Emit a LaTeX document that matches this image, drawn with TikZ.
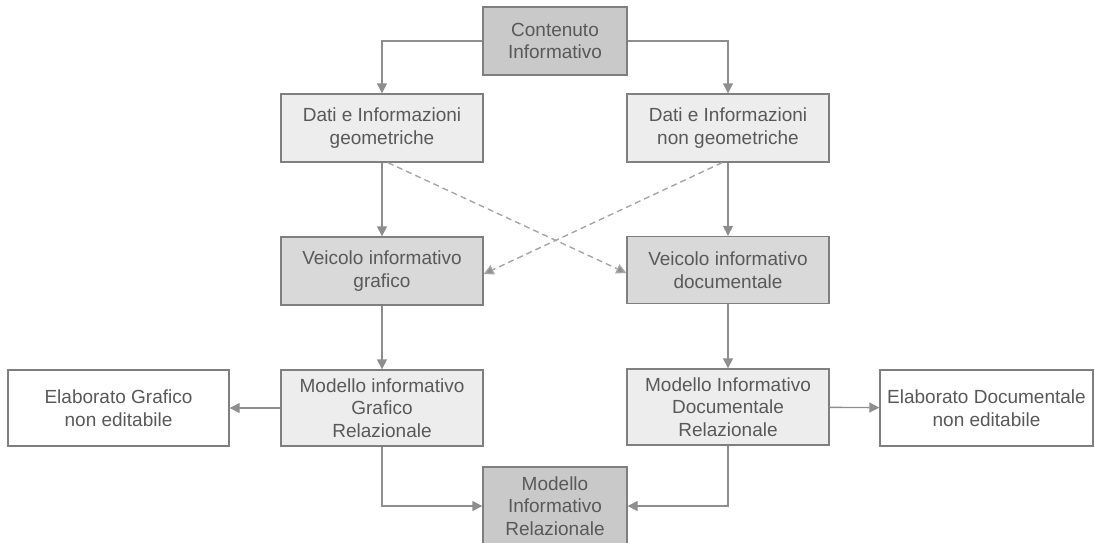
\documentclass[tikz,border=0pt]{standalone}
\usepackage{fontspec}
\setmainfont{Liberation Sans}
\usetikzlibrary{arrows.meta}
\definecolor{txtgray}{HTML}{595959}
\definecolor{edgegray}{HTML}{7F7F7F}
\definecolor{linkgray}{HTML}{8E8E8E}
\definecolor{dashgray}{HTML}{A6A6A6}
\definecolor{filldark}{HTML}{C9C9C9}
\definecolor{fillmid}{HTML}{D9D9D9}
\definecolor{filllight}{HTML}{EDEDED}
\tikzset{
  box/.style={draw=edgegray, line width=1.4pt, inner sep=0pt, align=center,
    text=txtgray, font=\fontsize{19}{22.5}\selectfont},
  link/.style={draw=linkgray, line width=1.4pt,
    -{Triangle[length=10pt,width=10pt]}},
  dlink/.style={draw=dashgray, line width=1.4pt, dash pattern=on 6pt off 4pt,
    -{Triangle[length=10pt,width=10pt,fill=linkgray]}},
}
\begin{document}
\begin{tikzpicture}[x=1pt,y=-1pt]
\useasboundingbox (0,0) rectangle (1095,542);
% boxes
\node[box, fill=filldark, minimum width=144pt, minimum height=68pt] (cont) at (555,41) {Contenuto\\Informativo};
\node[box, fill=filllight, minimum width=202pt, minimum height=68pt] (geo) at (382,128) {Dati e Informazioni\\geometriche};
\node[box, fill=filllight, minimum width=202pt, minimum height=68pt] (ngeo) at (728,128) {Dati e Informazioni\\non geometriche};
\node[box, fill=fillmid, minimum width=202pt, minimum height=68pt] (vg) at (382,271) {Veicolo informativo\\grafico};
\node[box, fill=fillmid, minimum width=202pt, minimum height=67pt] (vd) at (728,270) {Veicolo informativo\\documentale};
\node[box, fill=filllight, minimum width=202pt, minimum height=76pt] (mg) at (382,408) {Modello informativo\\Grafico\\Relazionale};
\node[box, fill=filllight, minimum width=202pt, minimum height=76pt] (md) at (728,407) {Modello Informativo\\Documentale\\Relazionale};
\node[box, fill=white, minimum width=221pt, minimum height=76pt] (eg) at (118.5,408) {Elaborato Grafico\\non editabile};
\node[box, fill=white, minimum width=213pt, minimum height=76pt] (ed) at (986.5,408) {Elaborato Documentale\\non editabile};
\node[box, fill=filldark, minimum width=144pt, minimum height=78pt] (mr) at (555,506) {Modello\\Informativo\\Relazionale};
% connectors
\draw[link] (cont.west) -| (geo.north);
\draw[link] (cont.east) -| (ngeo.north);
\draw[link] (geo) -- (vg);
\draw[link] (ngeo) -- (vd);
\draw[link] (vg) -- (mg);
\draw[link] (vd) -- (md);
\draw[link] (mg) -- (eg);
\draw[link] (md) -- (ed);
\draw[link] (mg.south) |- (mr.west);
\draw[link] (md.south) |- (mr.east);
\draw[dlink] ([xshift=6pt]geo.south) -- ([yshift=-3pt]vd.west);
\draw[dlink] ([xshift=-6pt]ngeo.south) -- ([yshift=-3pt]vg.east);
\end{tikzpicture}
\end{document}
